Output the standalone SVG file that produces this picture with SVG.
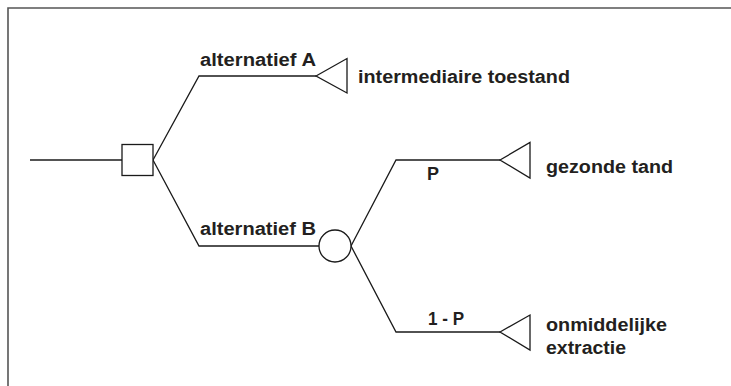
<svg xmlns="http://www.w3.org/2000/svg" width="731" height="386" viewBox="0 0 731 386">
<style>
.ln{fill:none;stroke:#1a1a1a;stroke-width:1.3}
.nd{fill:#fff;stroke:#1a1a1a;stroke-width:1.3}
.t{font-family:"Liberation Sans",Arial,sans-serif;font-weight:bold;font-size:18px;fill:#231f20}
.frame{fill:none;stroke:#555;stroke-width:1.6}
</style>
<rect width="731" height="386" fill="#fff"/>
<path class="frame" d="M8,386 V8 H731"/>
<g id="connectors">
<path class="ln" d="M30,160 H122"/>
<path class="ln" d="M153,160 L199,76 H316"/>
<path class="ln" d="M153,160 L199,246 H319"/>
<path class="ln" d="M351,246 L396,160 H500"/>
<path class="ln" d="M351,246 L396,332 H500"/>
<text class="t" x="200" y="66" textLength="116" lengthAdjust="spacingAndGlyphs">alternatief A</text>
<text class="t" x="200" y="235" textLength="116" lengthAdjust="spacingAndGlyphs">alternatief B</text>
<text class="t" x="427" y="180">P</text>
<text class="t" x="428" y="325" textLength="36" lengthAdjust="spacingAndGlyphs">1 - P</text>
</g>
<g id="decision"><rect class="nd" x="122" y="144.5" width="31" height="31"/></g>
<g id="chance"><circle class="nd" cx="335" cy="246" r="16"/></g>
<g id="end-a">
<polygon class="nd" points="316,76 347,58.5 347,93"/>
<text class="t" x="358" y="83" textLength="212" lengthAdjust="spacingAndGlyphs">intermediaire toestand</text>
</g>
<g id="end-p">
<polygon class="nd" points="500,160 530,142.5 530,178"/>
<text class="t" x="546" y="172.5" textLength="127" lengthAdjust="spacingAndGlyphs">gezonde tand</text>
</g>
<g id="end-1p">
<polygon class="nd" points="500,332 530,315 530,350"/>
<text class="t" x="546" y="330.5" textLength="121" lengthAdjust="spacingAndGlyphs">onmiddelijke</text>
<text class="t" x="546" y="354" textLength="80" lengthAdjust="spacingAndGlyphs">extractie</text>
</g>
</svg>
